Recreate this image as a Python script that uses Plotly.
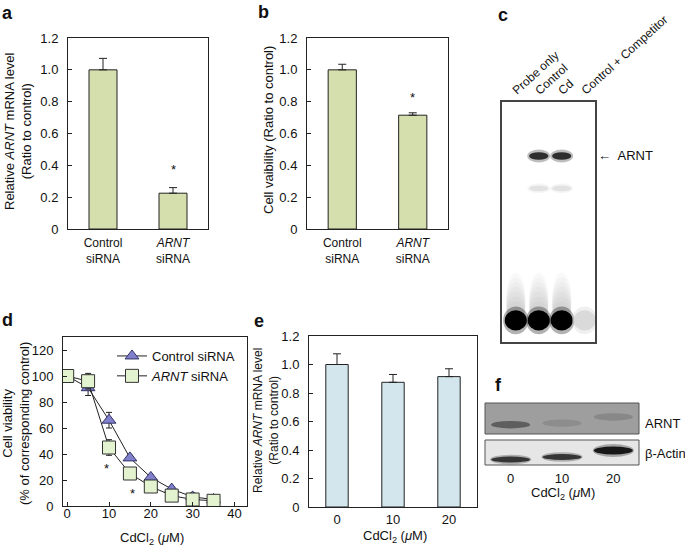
import plotly.graph_objects as go

W, H = 685, 547
def px(x): return x / W
def py(y): return 1 - y / H

FONT = "Liberation Sans, Arial, Helvetica, sans-serif"
INK = "#222222"
GREEN = "#d5dfae"
BLUE = "#d3e6ee"
TRI = "#8080cc"
SQ = "#e3f2cf"

# ---------------- data ----------------
# panel a
a_categories = ["Control<br>siRNA", "<i>ARNT</i><br>siRNA"]
a_values = [1.0, 0.225]
a_errors = [0.072, 0.035]
a_star = [None, 0.40]
# panel b
b_categories = ["Control<br>siRNA", "<i>ARNT</i><br>siRNA"]
b_values = [1.0, 0.715]
b_errors = [0.035, 0.015]
b_star = [None, 0.85]
# panel d
d_cd = [0, 5, 10, 15, 20, 25, 30, 35]
d_control = [100, 91, 66, 37, 22, 13, 7, 5]
d_control_err = [1, 6, 6, 2, 2, 2, 3, 3]
d_arnt = [100, 96, 45, 25, 15, 8, 5, 4]
d_arnt_err = [1, 6, 6, 2, 2, 2, 1, 1]
d_star_x = [9.5, 15.5]
d_star_y = [32, 13]
# panel e
e_categories = ["0", "10", "20"]
e_values = [1.0, 0.875, 0.915]
e_errors = [0.075, 0.055, 0.055]
# panel c (EMSA gel) lane intensities
gel_lanes = ["Probe only", "Control", "Cd", "Control + Competitor"]
gel_arnt = [0.0, 0.85, 0.85, 0.0]
gel_minor = [0.0, 0.12, 0.12, 0.0]
gel_free = [1.0, 1.0, 1.0, 0.2]
gel_row_arnt, gel_row_minor, gel_row_free = 0.225, 0.36, 0.91
# panel f (western blot) lane intensities
f_doses = ["0", "10", "20"]
f_arnt = [0.45, 0.12, 0.16]
f_arnt_rows = [0.3, 0.35, 0.55]
f_actin = [0.8, 0.8, 0.93]
f_actin_rows = [0.22, 0.32, 0.58]

yt_ratio = [0, 0.2, 0.4, 0.6, 0.8, 1.0, 1.2]
yt_ratio_text = ["0", "0.2", "0.4", "0.6", "0.8", "1.0", "1.2"]

fig = go.Figure()

def bar(cats, vals, errs, color, xa, ya):
    fig.add_trace(go.Bar(
        x=cats, y=vals, width=0.4, xaxis=xa, yaxis=ya, showlegend=False,
        marker=dict(color=color, line=dict(color=INK, width=1)),
        error_y=dict(type="data", array=errs, arrayminus=[0] * len(errs),
                     symmetric=False, color=INK, thickness=1, width=4)))

bar(a_categories, a_values, a_errors, GREEN, "x", "y")
bar(b_categories, b_values, b_errors, GREEN, "x2", "y2")
bar(e_categories, e_values, e_errors, BLUE, "x4", "y4")

fig.add_trace(go.Scatter(
    x=d_cd, y=d_control, name="Control siRNA", xaxis="x3", yaxis="y3",
    mode="lines+markers", line=dict(color=INK, width=1),
    marker=dict(symbol="triangle-up", size=12, color=TRI, line=dict(color="#333366", width=1)),
    error_y=dict(type="data", array=d_control_err, color=INK, thickness=1, width=3)))
fig.add_trace(go.Scatter(
    x=d_cd, y=d_arnt, name="<i>ARNT</i> siRNA", xaxis="x3", yaxis="y3",
    mode="lines+markers", line=dict(color=INK, width=1),
    marker=dict(symbol="square", size=13, color=SQ, line=dict(color="#333333", width=1)),
    error_y=dict(type="data", array=d_arnt_err, color=INK, thickness=1, width=3)))

base = dict(showline=True, linecolor=INK, linewidth=1, mirror=True, showgrid=False,
            zeroline=False, tickcolor=INK, ticklen=4, automargin=False,
            tickfont=dict(size=13, family=FONT, color="#111111"))

def yratio(dom, anchor):
    return dict(base, domain=dom, anchor=anchor, range=[0, 1.2], ticks="inside",
                tickvals=yt_ratio, ticktext=yt_ratio_text, ticklabelstandoff=6)

def xcat(dom, anchor, n, size=12, standoff=4):
    return dict(base, domain=dom, anchor=anchor, range=[-0.5, n - 0.5], ticks="",
                tickfont=dict(size=size, family=FONT, color="#111111"),
                ticklabelstandoff=standoff, type="category")

fig.update_layout(
    xaxis=xcat([px(68), px(208)], "y", 2, standoff=3),
    yaxis=yratio([py(229), py(38)], "x"),
    xaxis2=xcat([px(307), px(448)], "y2", 2, standoff=3),
    yaxis2=yratio([py(229), py(38)], "x2"),
    xaxis3=dict(base, domain=[px(63), px(247)], anchor="y3", range=[-1, 43], ticks="inside",
                tickvals=[0, 10, 20, 30, 40], ticklabelstandoff=-5),
    yaxis3=dict(base, domain=[py(506), py(337)], anchor="x3", range=[0, 130], ticks="inside",
                tickvals=[0, 20, 40, 60, 80, 100, 120], ticklabelstandoff=6),
    xaxis4=xcat([px(309), px(477)], "y4", 3, size=13, standoff=0),
    yaxis4=yratio([py(507), py(336)], "x4"),
    xaxis5=dict(domain=[px(502), px(595)], anchor="y5", range=[-0.6, 3.45], showline=True,
                mirror=True, linecolor="#444444", linewidth=1.5, showgrid=False, zeroline=False,
                showticklabels=False, ticks=""),
    yaxis5=dict(domain=[py(342), py(102)], anchor="x5", range=[1, 0], showline=True,
                mirror=True, linecolor="#444444", linewidth=1.5, showgrid=False, zeroline=False,
                showticklabels=False, ticks=""),
    xaxis6=dict(domain=[px(485), px(639)], anchor="y7", range=[-0.5, 2.5], showline=False,
                showgrid=False, zeroline=False, ticks="", tickvals=[0, 1, 2], ticktext=f_doses,
                tickfont=dict(size=13, family=FONT, color="#111111"), ticklabelstandoff=4,
                automargin=False),
    yaxis6=dict(domain=[py(434), py(403)], anchor="x6", range=[0, 1], visible=False),
    yaxis7=dict(domain=[py(465), py(440)], anchor="x6", range=[0, 1], visible=False),
)

shapes = []
def shp(kind, xref, yref, x0, x1, y0, y1, fill, opacity=1.0, line=None):
    shapes.append(dict(type=kind, xref=xref, yref=yref, x0=x0, x1=x1, y0=y0, y1=y1,
                       fillcolor=fill, opacity=opacity,
                       line=line if line is not None else dict(width=0)))

def gray(v):
    v = max(0, min(255, int(round(v))))
    return f"rgb({v},{v},{v})"

# ---- gel c ----
for i, lane in enumerate(gel_lanes):
    inten = gel_free[i]
    if inten > 0:
        c = gray(255 * (1 - inten))
        if inten >= 0.5:
            for k in range(8):
                shp("circle", "x5", "y5", i - 0.42, i + 0.42,
                    gel_row_free - 0.2 + k * 0.02, gel_row_free + 0.02, c, opacity=0.025)
        shp("circle", "x5", "y5", i - 0.55, i + 0.55, gel_row_free - 0.058, gel_row_free + 0.058, c, 0.3)
        shp("circle", "x5", "y5", i - 0.48, i + 0.48, gel_row_free - 0.042, gel_row_free + 0.042, c,
            1.0 if inten >= 0.5 else 0.6)
    for rows, vals, hh in ((gel_row_arnt, gel_arnt, 0.016), (gel_row_minor, gel_minor, 0.012)):
        inten = vals[i]
        if inten > 0:
            c = gray(255 * (1 - inten))
            shp("circle", "x5", "y5", i - 0.5, i + 0.5, rows - hh * 1.7, rows + hh * 1.7, c, 0.3)
            shp("circle", "x5", "y5", i - 0.42, i + 0.42, rows - hh, rows + hh, c, 0.95)

# ---- blot f ----
shp("rect", "x6 domain", "y6 domain", 0, 1, 0, 1, "#9e9e9e", line=dict(color="#555555", width=1))
shp("rect", "x6 domain", "y7 domain", 0, 1, 0, 1, "#e6e6e6", line=dict(color="#555555", width=1))
for i in range(len(f_doses)):
    c = gray(158 * (1 - f_arnt[i]))
    shp("circle", "x6", "y6", i - 0.38, i + 0.38, f_arnt_rows[i] - 0.12, f_arnt_rows[i] + 0.12, c, 0.9)
    c = gray(230 * (1 - f_actin[i]))
    hh = 0.16 if f_actin[i] > 0.9 else 0.12
    shp("circle", "x6", "y7", i - 0.4, i + 0.4, f_actin_rows[i] - hh * 1.6, f_actin_rows[i] + hh * 1.6, c, 0.3)
    shp("circle", "x6", "y7", i - 0.38, i + 0.38, f_actin_rows[i] - hh, f_actin_rows[i] + hh, c, 0.95)

fig.update_layout(shapes=shapes)

ann = []
def text(t, x, y, size=13, xref="paper", yref="paper", **kw):
    d = dict(text=t, x=x, y=y, xref=xref, yref=yref, showarrow=False,
             xanchor="center", yanchor="middle",
             font=dict(size=size, family=FONT, color="#111111"))
    d.update(kw)
    ann.append(d)

# panel letters
for letter, (lx, ly) in {"a": (7, 13), "b": (263, 12), "c": (503, 15),
                          "d": (7, 320), "e": (259, 321), "f": (498, 385)}.items():
    text(f"<b>{letter}</b>", px(lx), py(ly), size=18)

# axis titles
text("Relative <i>ARNT</i> mRNA level<br>(Ratio to control)", px(18), py(131), textangle=-90)
text("Cell vaibility (Ratio to control)", px(268), py(130), textangle=-90)
text("Cell viability<br>(% of corresponding control)", px(16), py(424), textangle=-90)
text("Relative <i>ARNT</i> mRNA level<br>(Ratio to control)", px(266), py(421), size=12, textangle=-90)
text("CdCl<sub>2</sub> (<i>μ</i>M)", px(152), py(538))
text("CdCl<sub>2</sub> (<i>μ</i>M)", px(395), py(536))
text("CdCl<sub>2</sub> (<i>μ</i>M)", px(563), py(493))

# asterisks
for cat, s in zip(a_categories, a_star):
    if s is not None:
        text("*", cat, s, xref="x", yref="y", yshift=-4)
for cat, s in zip(b_categories, b_star):
    if s is not None:
        text("*", cat, s, xref="x2", yref="y2", yshift=-4)
for sx, sy in zip(d_star_x, d_star_y):
    text("*", sx, sy, xref="x3", yref="y3", yshift=-4)

# gel labels
for i, lane in enumerate(gel_lanes):
    text(lane, i, py(100), size=12, xref="x5", textangle=-42,
         xanchor="left", yanchor="bottom", xshift=-9)
text("←  ARNT", px(596), py(156), xanchor="left")
text("ARNT", px(643), py(423), xanchor="left")
text("β-Actin", px(643), py(453), xanchor="left")

fig.update_layout(
    annotations=ann,
    width=W, height=H, autosize=False,
    margin=dict(l=0, r=0, t=0, b=0, pad=0, autoexpand=False),
    paper_bgcolor="white", plot_bgcolor="white",
    font=dict(family=FONT, size=13, color="#111111"),
    bargap=0.6,
    showlegend=True,
    legend=dict(x=px(112), y=py(341), xanchor="left", yanchor="top",
                bgcolor="rgba(0,0,0,0)", font=dict(size=13, family=FONT),
                itemwidth=30, tracegroupgap=0),
)

fig.write_html("out.html", config={"displayModeBar": False},
               post_script="document.body.style.margin='0';document.body.style.padding='0';")
